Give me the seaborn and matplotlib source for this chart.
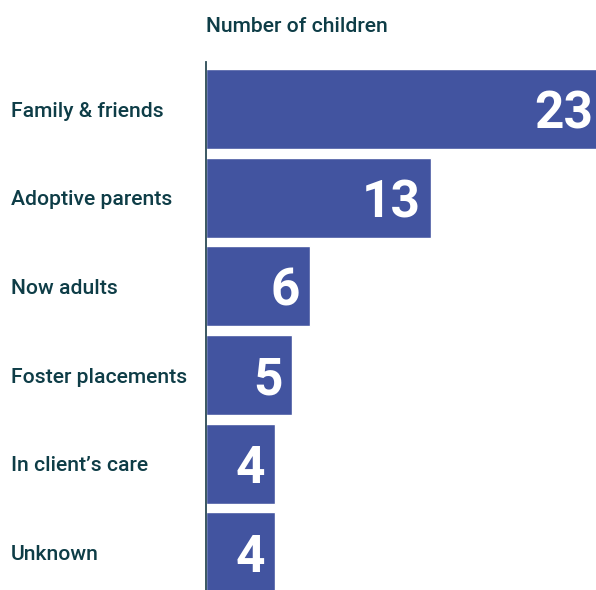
import matplotlib
matplotlib.use("Agg")
import matplotlib.pyplot as plt
import seaborn as sns
import pandas as pd

categories = ["Family & friends", "Adoptive parents", "Now adults",
              "Foster placements", "In client\u2019s care", "Unknown"]
children = [23, 13, 6, 5, 4, 4]
axis_title = "Number of children"

bar_color = "#4254a0"
text_color = "#0e3d47"

sns.set_theme(style="white")
plt.rcParams["font.family"] = ["Roboto", "DejaVu Sans"]

df = pd.DataFrame({"category": categories, "children": children})

fig = plt.figure(figsize=(5.96, 5.90), dpi=100)
ax = fig.add_axes([206 / 596, 0.0, 1 - 206 / 596, (590 - 62) / 590])

sns.barplot(data=df, x="children", y="category", order=categories,
            color=bar_color, saturation=1, width=0.9, ax=ax)

ax.set_xlim(0, 390 / 17.27)
ax.set_ylim(5.425, -0.531)

for spine in ["top", "right", "bottom"]:
    ax.spines[spine].set_visible(False)
ax.spines["left"].set_color("#2b4a55")
ax.spines["left"].set_linewidth(1.3)

ax.set_xticks([])
ax.set_xlabel("")
ax.set_ylabel("")
ax.tick_params(axis="y", length=0, pad=(206 - 11) * 72 / 100)
for lbl in ax.get_yticklabels():
    lbl.set_horizontalalignment("left")
    lbl.set_fontsize(15.2)
    lbl.set_fontweight("medium")
    lbl.set_color(text_color)

# value labels inside the bar ends
for i, v in enumerate(children):
    ax.annotate(str(v), xy=(v, i), xytext=(-10, 0), textcoords="offset pixels",
                ha="right", va="center_baseline", color="white",
                fontsize=37, fontweight="bold", annotation_clip=False)

fig.text(206 / 596, (590 - 32.3) / 590, axis_title, ha="left", va="baseline",
         fontsize=15.2, fontweight="medium", color=text_color)

fig.savefig("out.png", dpi=100)
